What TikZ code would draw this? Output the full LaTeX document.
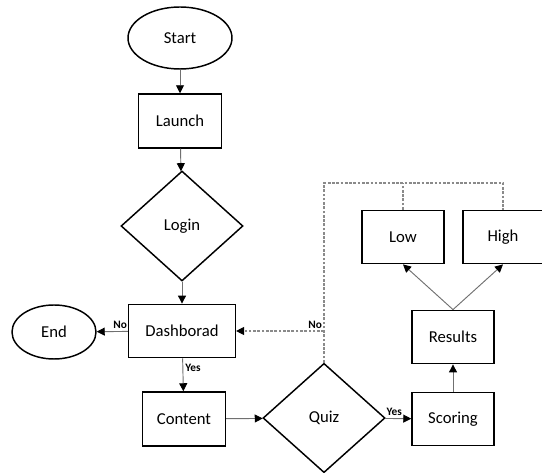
\documentclass[tikz,border=0pt]{standalone}
\usepackage{fontspec}
\setmainfont{Carlito}
\usepackage{tikz}
\usetikzlibrary{arrows.meta,shapes.geometric}
\definecolor{ink}{HTML}{000000}
\definecolor{wire}{HTML}{707070}
\definecolor{dashwire}{HTML}{8A8A8A}
\tikzset{
  box/.style    ={rectangle,draw=ink,line width=1.1pt,fill=white,inner sep=2pt,
                  align=center,font=\fontsize{12.5}{15}\selectfont},
  oval/.style   ={ellipse,draw=ink,line width=1.1pt,fill=white,inner sep=0pt,
                  font=\fontsize{12.5}{15}\selectfont},
  decide/.style ={diamond,draw=ink,line width=1.1pt,fill=white,inner sep=0pt,
                  font=\fontsize{12.5}{15}\selectfont},
  flow/.style   ={-{Triangle[length=6pt,width=6pt,color=ink]},line width=0.7pt,draw=wire},
  back/.style   ={line width=0.8pt,draw=dashwire,dash pattern=on 2pt off 1.2pt},
  tag/.style    ={font=\fontsize{8.5}{10}\selectfont\bfseries,inner sep=1.5pt}
}

\begin{document}
\begin{tikzpicture}[x=0.75pt,y=-0.75pt]
  \useasboundingbox (0,0) rectangle (542,473);
  % main column
  \node[oval,minimum width=78pt,minimum height=46.5pt] (start) at (180,38) {Start};
  \node[box,minimum width=62pt,minimum height=40.5pt] (launch) at (180,121) {Launch};
  \node[decide,minimum width=91.5pt,minimum height=82.5pt] (login) at (182,226) {Login};
  \node[box,minimum width=80pt,minimum height=40pt] (dash) at (182,331) {Dashborad};
  \node[oval,minimum width=63pt,minimum height=40.5pt] (stop) at (54,332) {End};
  \node[box,minimum width=62pt,minimum height=40.5pt] (content) at (184,419) {Content};
  % quiz branch
  \node[decide,minimum width=91.5pt,minimum height=82pt] (quiz) at (324,418) {Quiz};
  \node[box,minimum width=61.5pt,minimum height=40pt] (scoring) at (453,419) {Scoring};
  \node[box,minimum width=61.5pt,minimum height=40pt] (results) at (453,337) {Results};
  \node[box,minimum width=61.5pt,minimum height=40pt] (low) at (403,237) {Low};
  \node[box,minimum width=60pt,minimum height=40pt] (high) at (503,237) {High};
  \coordinate (top) at (324,183);

  \draw[flow] (start) -- (launch);
  \draw[flow] (launch) -- (login);
  \draw[flow] (login) -- (dash);
  \draw[flow] (dash) -- node[tag,above,pos=0.25] {No} (stop);
  \draw[flow] (dash) -- node[tag,right,pos=0.3] {Yes} (content);
  \draw[flow] (content) -- (quiz);
  \draw[flow] (quiz) -- node[tag,above,pos=0.35] {Yes} (scoring);
  \draw[flow] (scoring) -- (results);
  \draw[flow] (results.north) -- (low.south);
  \draw[flow] (results.north) -- (high.south);

  % loop back
  \draw[back] (quiz.north) -- (quiz.north |- top) -- (high.north |- top) -- (high.north);
  \draw[back] (low.north) -- (low.north |- top);
  \draw[back,-{Triangle[length=6pt,width=6pt,color=ink]}] (quiz.north |- dash)
    -- node[tag,above,pos=0.1] {No} (dash.east);
\end{tikzpicture}
\end{document}
